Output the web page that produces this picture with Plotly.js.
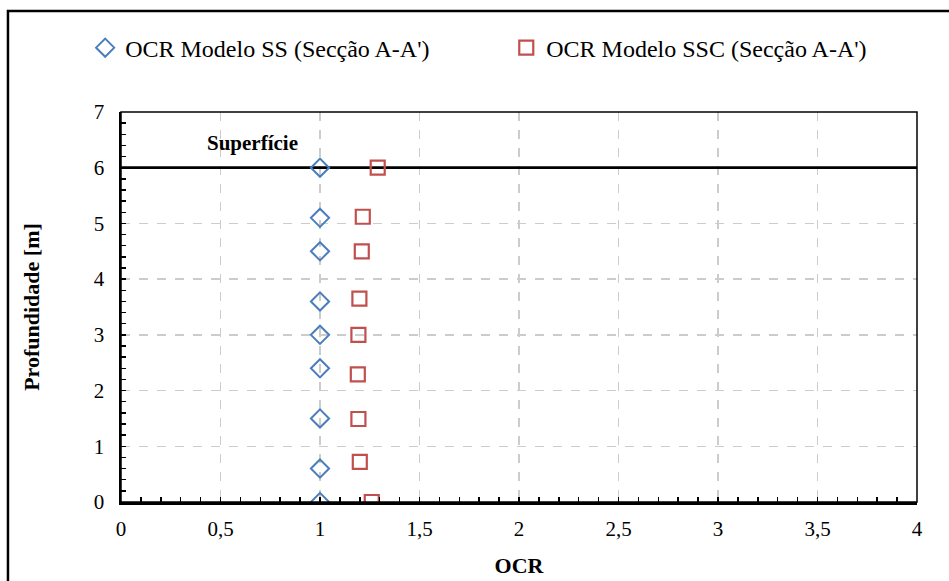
<!DOCTYPE html>
<html>
<head>
<meta charset="utf-8">
<script src="https://cdn.plot.ly/plotly-3.0.1.min.js"></script>
<style>html,body{margin:0;padding:0;background:#fff;}#chart{width:949px;height:581px;}</style>
</head>
<body>
<div id="chart"></div>
<script>
// Series: OCR Modelo SS (Secção A-A')
const ssOCR   = [1, 1, 1, 1, 1, 1, 1, 1, 1];
const ssDepth = [6.0, 5.1, 4.5, 3.6, 3.0, 2.4, 1.5, 0.6, 0.0];
// Series: OCR Modelo SSC (Secção A-A')
const sscOCR   = [1.29, 1.215, 1.21, 1.198, 1.193, 1.19, 1.193, 1.20, 1.26];
const sscDepth = [6.0, 5.12, 4.5, 3.65, 3.0, 2.29, 1.49, 0.72, 0.0];
// Surface level line
const surfaceX = [0, 4];
const surfaceY = [6, 6];
const surfaceLabel = "Superfície";
const seriesNames = ["OCR Modelo SS (Secção A-A')", "OCR Modelo SSC (Secção A-A')"];
const xTitle = "OCR";
const yTitle = "Profundidade [m]";

const FONT = "Times New Roman, Liberation Serif, DejaVu Serif, serif";

const traces = [
  {x: surfaceX, y: surfaceY, mode: 'lines', line: {color: '#000', width: 2.8}, showlegend: false, hoverinfo: 'skip'},
  {x: ssOCR, y: ssDepth, name: seriesNames[0], mode: 'markers', type: 'scatter',
   marker: {symbol: 'diamond-open', size: 14, color: '#4A7EBB', line: {width: 2, color: '#4A7EBB'}}, legend: 'legend'},
  {x: sscOCR, y: sscDepth, name: seriesNames[1], mode: 'markers', type: 'scatter',
   marker: {symbol: 'square-open', size: 14, color: '#C0504D', line: {width: 2.2, color: '#C0504D'}}, legend: 'legend2'}
];

const layout = {
  width: 949, height: 581,
  margin: {l: 121, r: 32, t: 112, b: 79},
  paper_bgcolor: '#fff', plot_bgcolor: '#fff',
  separators: ', ',
  font: {family: FONT, size: 21, color: '#000'},
  xaxis: {
    range: [0, 4], dtick: 0.5, tick0: 0, showgrid: true, gridcolor: '#cccccc', griddash: 'dash', gridwidth: 1.3,
    zeroline: false, showline: true, linecolor: '#000', linewidth: 2.5,
    ticks: 'inside', ticklen: 5, tickcolor: '#000', tickwidth: 1.5,
    minor: {dtick: 0.1, ticks: 'inside', ticklen: 5, tickcolor: '#000', tickwidth: 1.5, showgrid: false},
    tickfont: {family: FONT, size: 21, color: '#000'}, ticklabelstandoff: 6,
    title: {text: xTitle, font: {family: FONT, size: 22, weight: 'bold', color: '#000'}, standoff: 18}
  },
  yaxis: {
    range: [0, 7], dtick: 1, tick0: 0, showgrid: true, gridcolor: '#cccccc', griddash: 'dash', gridwidth: 1.3,
    zeroline: false, showline: true, linecolor: '#000', linewidth: 2.5,
    ticks: 'inside', ticklen: 5, tickcolor: '#000', tickwidth: 1.5,
    minor: {dtick: 0.2, ticks: 'inside', ticklen: 5, tickcolor: '#000', tickwidth: 1.5, showgrid: false},
    tickfont: {family: FONT, size: 21, color: '#000'}, ticklabelstandoff: 10,
    title: {text: yTitle, font: {family: FONT, size: 22, weight: 'bold', color: '#000'}, standoff: 48}
  },
  legend: {orientation: 'h', x: -0.045, xanchor: 'left', y: 1.164, yanchor: 'middle',
           font: {family: FONT, size: 24, color: '#000'}, bgcolor: 'rgba(0,0,0,0)', itemwidth: 30},
  legend2: {orientation: 'h', x: 0.484, xanchor: 'left', y: 1.164, yanchor: 'middle',
           font: {family: FONT, size: 24, color: '#000'}, bgcolor: 'rgba(0,0,0,0)', itemwidth: 30},
  annotations: [
    {x: 0.66, y: 6.44, xref: 'x', yref: 'y', text: surfaceLabel, showarrow: false,
     font: {family: FONT, size: 21, weight: 'bold', color: '#000'}}
  ],
  shapes: [
    {type: 'rect', xref: 'x domain', yref: 'y domain', x0: 0, x1: 1, y0: 0, y1: 1, line: {color: '#000', width: 1.5}},
    {type: 'rect', xref: 'paper', yref: 'paper', x0: -0.142, x1: 1.3, y0: -0.5, y1: 1.259, line: {color: '#000', width: 2.5}}
  ]
};

Plotly.newPlot('chart', traces, layout, {displayModeBar: false, staticPlot: true});
</script>
</body>
</html>
